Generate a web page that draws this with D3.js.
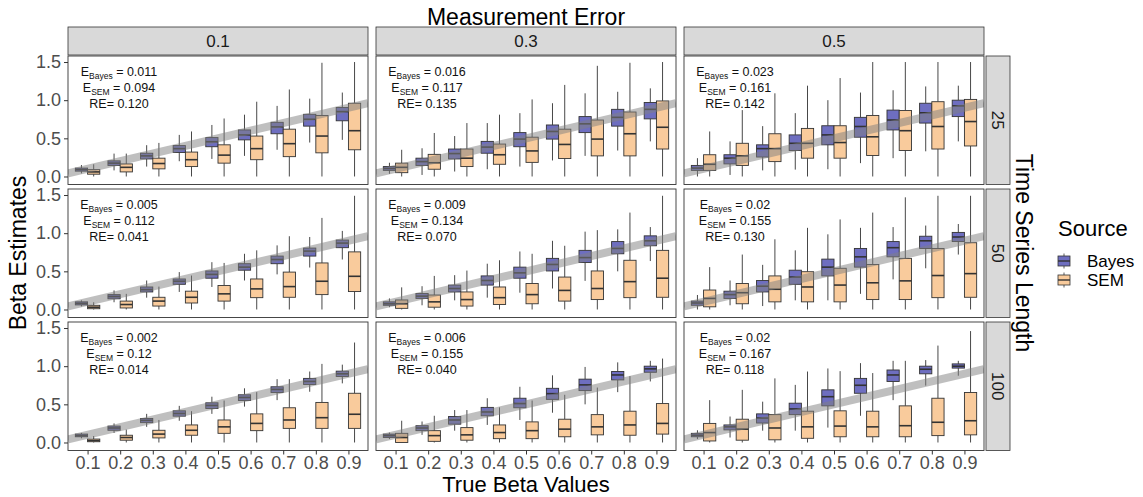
<!DOCTYPE html>
<html>
<head>
<meta charset="utf-8">
<script src="https://cdn.jsdelivr.net/npm/d3@7"></script>
<style>
  body { margin: 0; background: #fff; }
  svg { display: block; font-family: "Liberation Sans", Arial, sans-serif; }
</style>
</head>
<body>
<div id="chart"></div>
<script>
const betas = ["0.1", "0.2", "0.3", "0.4", "0.5", "0.6", "0.7", "0.8", "0.9"];
const errors = ["0.1", "0.3", "0.5"];
const lengths = ["25", "50", "100"];
const sources = ["Bayes", "SEM"];

// each row: [lower whisker, q1, median, q3, upper whisker]
const bayes25e1 = [[0.04,0.07,0.09,0.11,0.15],[0.08,0.145,0.175,0.205,0.30],[0.13,0.23,0.27,0.305,0.41],[0.20,0.315,0.365,0.405,0.545],[0.23,0.39,0.455,0.51,0.675],[0.27,0.48,0.545,0.61,0.81],[0.35,0.56,0.65,0.71,0.925],[0.445,0.66,0.75,0.815,1.02],[0.48,0.73,0.85,0.905,1.10]];
const sem25e1 = [[0,0.03,0.06,0.09,0.16],[0,0.06,0.12,0.165,0.30],[0,0.10,0.17,0.24,0.44],[0,0.13,0.22,0.32,0.59],[0,0.175,0.28,0.415,0.76],[0,0.22,0.365,0.53,0.98],[0,0.26,0.43,0.62,1.14],[0,0.31,0.53,0.80,1.49],[0,0.35,0.60,0.96,1.50]];
const bayes25e3 = [[0.035,0.08,0.105,0.13,0.18],[0.02,0.145,0.195,0.24,0.37],[0.065,0.23,0.30,0.36,0.53],[0.095,0.305,0.385,0.46,0.70],[0.13,0.39,0.49,0.575,0.83],[0.21,0.49,0.59,0.675,0.96],[0.27,0.575,0.69,0.785,1.09],[0.34,0.66,0.775,0.88,1.11],[0.46,0.755,0.88,0.97,1.155]];
const sem25e3 = [[0,0.05,0.12,0.175,0.35],[0,0.095,0.18,0.29,0.57],[0,0.13,0.24,0.36,0.70],[0,0.16,0.285,0.425,0.81],[0,0.185,0.335,0.515,1.01],[0,0.235,0.42,0.62,1.20],[0,0.27,0.49,0.74,1.45],[0,0.27,0.56,0.845,1.49],[0,0.36,0.645,0.99,1.50]];
const bayes25e5 = [[0,0.08,0.11,0.145,0.24],[0.02,0.165,0.24,0.285,0.46],[0.08,0.255,0.365,0.415,0.66],[0.09,0.34,0.435,0.545,0.83],[0.095,0.415,0.545,0.665,1.0],[0.175,0.515,0.655,0.775,1.10],[0.24,0.61,0.74,0.87,1.13],[0.33,0.70,0.835,0.96,1.18],[0.46,0.785,0.925,1.0,1.19]];
const sem25e5 = [[0,0.08,0.16,0.285,0.59],[0,0.145,0.27,0.435,0.87],[0,0.195,0.365,0.56,1.09],[0,0.24,0.435,0.63,1.19],[0,0.24,0.445,0.665,1.29],[0,0.275,0.52,0.80,1.50],[0,0.34,0.60,0.865,1.50],[0,0.36,0.655,0.98,1.50],[0,0.40,0.72,1.01,1.50]];
const bayes50e1 = [[0.04,0.06,0.08,0.10,0.12],[0.095,0.14,0.17,0.195,0.25],[0.155,0.23,0.26,0.295,0.38],[0.23,0.33,0.37,0.40,0.49],[0.295,0.41,0.46,0.505,0.62],[0.38,0.515,0.555,0.60,0.73],[0.46,0.60,0.655,0.70,0.84],[0.55,0.70,0.765,0.805,0.95],[0.655,0.81,0.87,0.91,1.03]];
const sem50e1 = [[0,0.01,0.03,0.055,0.095],[0,0.02,0.065,0.11,0.205],[0,0.045,0.11,0.16,0.30],[0,0.085,0.16,0.24,0.445],[0,0.11,0.205,0.315,0.61],[0,0.155,0.27,0.40,0.775],[0,0.16,0.30,0.49,0.96],[0,0.195,0.37,0.61,1.20],[0,0.235,0.435,0.755,1.49]];
const bayes50e3 = [[0.03,0.055,0.075,0.10,0.145],[0.055,0.145,0.175,0.21,0.305],[0.12,0.23,0.275,0.32,0.45],[0.155,0.32,0.38,0.44,0.60],[0.22,0.41,0.48,0.555,0.76],[0.275,0.505,0.59,0.67,0.90],[0.375,0.615,0.68,0.775,1.02],[0.50,0.73,0.80,0.89,1.05],[0.635,0.835,0.90,0.965,1.08]];
const sem50e3 = [[0,0.015,0.075,0.125,0.29],[0,0.03,0.10,0.19,0.44],[0,0.045,0.13,0.23,0.51],[0,0.065,0.155,0.295,0.645],[0,0.075,0.195,0.34,0.73],[0,0.11,0.25,0.425,0.835],[0,0.13,0.275,0.505,1.04],[0,0.155,0.365,0.645,1.27],[0,0.16,0.41,0.775,1.49]];
const bayes50e5 = [[0,0.055,0.085,0.11,0.19],[0.055,0.145,0.195,0.24,0.38],[0.045,0.23,0.305,0.38,0.585],[0.12,0.33,0.425,0.515,0.775],[0.12,0.44,0.555,0.66,0.985],[0.205,0.555,0.69,0.80,1.07],[0.395,0.69,0.81,0.89,1.08],[0.54,0.80,0.90,0.96,1.10],[0.72,0.89,0.95,1.01,1.12]];
const sem50e5 = [[0,0.035,0.145,0.255,0.555],[0,0.075,0.22,0.34,0.72],[0,0.10,0.265,0.44,0.92],[0,0.10,0.295,0.495,1.07],[0,0.10,0.32,0.54,1.18],[0,0.13,0.35,0.59,1.27],[0,0.13,0.375,0.67,1.47],[0,0.155,0.445,0.80,1.49],[0,0.16,0.47,0.875,1.49]];
const bayes100e1 = [[0.055,0.075,0.09,0.11,0.125],[0.125,0.16,0.19,0.215,0.25],[0.205,0.26,0.29,0.315,0.375],[0.285,0.345,0.38,0.415,0.48],[0.375,0.445,0.485,0.52,0.60],[0.47,0.55,0.59,0.625,0.71],[0.555,0.655,0.695,0.73,0.83],[0.665,0.76,0.80,0.84,0.93],[0.775,0.865,0.90,0.935,1.02]];
const sem100e1 = [[0,0.01,0.025,0.045,0.085],[0,0.03,0.065,0.095,0.17],[0,0.06,0.11,0.16,0.295],[0,0.095,0.16,0.23,0.41],[0,0.12,0.205,0.295,0.55],[0,0.155,0.25,0.375,0.66],[0,0.185,0.295,0.455,0.83],[0,0.185,0.325,0.525,1.03],[0,0.185,0.37,0.645,1.31]];
const bayes100e3 = [[0.045,0.065,0.09,0.11,0.13],[0.10,0.155,0.19,0.22,0.275],[0.155,0.24,0.295,0.34,0.425],[0.23,0.35,0.40,0.46,0.58],[0.295,0.455,0.51,0.58,0.73],[0.39,0.565,0.64,0.71,0.88],[0.50,0.68,0.755,0.83,0.99],[0.66,0.82,0.885,0.93,1.05],[0.80,0.92,0.965,1.0,1.07]];
const sem100e3 = [[0,0,0.065,0.12,0.285],[0,0.015,0.09,0.155,0.35],[0,0.03,0.10,0.195,0.425],[0,0.05,0.13,0.23,0.46],[0,0.05,0.155,0.27,0.55],[0,0.075,0.175,0.305,0.625],[0,0.10,0.205,0.365,0.72],[0,0.095,0.23,0.41,0.87],[0,0.11,0.25,0.51,1.10]];
const bayes100e5 = [[0.045,0.075,0.095,0.12,0.16],[0.065,0.165,0.205,0.23,0.34],[0.155,0.255,0.32,0.375,0.535],[0.155,0.365,0.44,0.515,0.755],[0.195,0.48,0.60,0.69,0.97],[0.35,0.645,0.75,0.84,1.04],[0.555,0.80,0.885,0.95,1.07],[0.745,0.90,0.96,1.0,1.08],[0.875,0.975,1.0,1.03,1.07]];
const sem100e5 = [[0,0.02,0.13,0.25,0.555],[0,0.03,0.175,0.305,0.69],[0,0.035,0.19,0.365,0.84],[0,0.055,0.205,0.41,0.93],[0,0.075,0.215,0.415,0.935],[0,0.075,0.205,0.41,0.91],[0,0.075,0.22,0.48,1.07],[0,0.09,0.265,0.58,1.27],[0,0.10,0.285,0.655,1.46]];

// annotation values, rows = time series length, cols = measurement error
const eBayes = [["0.011", "0.016", "0.023"], ["0.005", "0.009", "0.02"], ["0.002", "0.006", "0.02"]];
const eSem = [["0.094", "0.117", "0.161"], ["0.112", "0.134", "0.155"], ["0.12", "0.155", "0.167"]];
const reVals = [["0.120", "0.135", "0.142"], ["0.041", "0.070", "0.130"], ["0.014", "0.040", "0.118"]];

const yTicks = [0, 0.5, 1.0, 1.5];

const boxData = {
  Bayes: [
    [bayes25e1, bayes25e3, bayes25e5],
    [bayes50e1, bayes50e3, bayes50e5],
    [bayes100e1, bayes100e3, bayes100e5],
  ],
  SEM: [
    [sem25e1, sem25e3, sem25e5],
    [sem50e1, sem50e3, sem50e5],
    [sem100e1, sem100e3, sem100e5],
  ],
};

const width = 1143;
const height = 497;
const panelW = 300;
const panelH = 128.5;
const colX = [68, 376, 684];
const rowY = [56, 189, 322];
const fills = { Bayes: "#6e6ec0", SEM: "#f9cb9c" };
const font = '"Liberation Sans", Arial, sans-serif';

const svg = d3
  .select("#chart")
  .append("svg")
  .attr("width", width)
  .attr("height", height);

const x = d3.scalePoint().domain(betas).range([0, panelW]).padding(0.6);
const xLine = d3.scaleLinear().domain([0.4, 9.6]).range([0, panelW]);
const y = d3.scaleLinear().domain([-0.105, 1.579]).range([panelH, 0]);
const boxW = x.step() * 0.375;

svg
  .append("defs")
  .append("clipPath")
  .attr("id", "panel-clip")
  .append("rect")
  .attr("width", panelW)
  .attr("height", panelH);

// top strips
errors.forEach((e, c) => {
  const g = svg.append("g").attr("transform", `translate(${colX[c]},27)`);
  g.append("rect")
    .attr("width", panelW)
    .attr("height", 28)
    .attr("fill", "#d9d9d9")
    .attr("stroke", "#333")
    .attr("stroke-width", 0.8);
  g.append("text")
    .attr("x", panelW / 2)
    .attr("y", 14)
    .attr("dy", "0.36em")
    .attr("text-anchor", "middle")
    .attr("font-size", 17)
    .attr("fill", "#1a1a1a")
    .text(e);
});

// right strips
lengths.forEach((l, r) => {
  const g = svg.append("g").attr("transform", `translate(986,${rowY[r]})`);
  g.append("rect")
    .attr("width", 24)
    .attr("height", panelH)
    .attr("fill", "#d9d9d9")
    .attr("stroke", "#333")
    .attr("stroke-width", 0.8);
  g.append("text")
    .attr("transform", `translate(12,${panelH / 2}) rotate(90)`)
    .attr("dy", "0.36em")
    .attr("text-anchor", "middle")
    .attr("font-size", 17)
    .attr("fill", "#1a1a1a")
    .text(l);
});

lengths.forEach((l, r) => {
  errors.forEach((e, c) => {
    const panel = svg
      .append("g")
      .attr("transform", `translate(${colX[c]},${rowY[r]})`);

    panel
      .append("rect")
      .attr("width", panelW)
      .attr("height", panelH)
      .attr("fill", "#fff");

    sources.forEach((s, si) => {
      const offset = (si === 0 ? -1 : 1) * boxW / 2;
      const boxes = panel
        .append("g")
        .selectAll("g")
        .data(boxData[s][r][c])
        .join("g")
        .attr("transform", (d, i) => `translate(${x(betas[i]) + offset},0)`);

      boxes
        .append("line")
        .attr("y1", (d) => y(d[0]))
        .attr("y2", (d) => y(d[1]))
        .attr("stroke", "#333")
        .attr("stroke-width", 0.9);
      boxes
        .append("line")
        .attr("y1", (d) => y(d[3]))
        .attr("y2", (d) => y(d[4]))
        .attr("stroke", "#333")
        .attr("stroke-width", 0.9);
      boxes
        .append("rect")
        .attr("x", -boxW / 2)
        .attr("width", boxW)
        .attr("y", (d) => y(d[3]))
        .attr("height", (d) => y(d[1]) - y(d[3]))
        .attr("fill", fills[s])
        .attr("stroke", "#333")
        .attr("stroke-width", 0.9);
      boxes
        .append("line")
        .attr("x1", -boxW / 2)
        .attr("x2", boxW / 2)
        .attr("y1", (d) => y(d[2]))
        .attr("y2", (d) => y(d[2]))
        .attr("stroke", "#333")
        .attr("stroke-width", 1.6);
    });

    // reference line y = true beta
    panel
      .append("line")
      .attr("clip-path", "url(#panel-clip)")
      .attr("x1", xLine(0.4))
      .attr("x2", xLine(9.6))
      .attr("y1", y(0.04))
      .attr("y2", y(0.96))
      .attr("stroke", "#7f7f7f")
      .attr("stroke-opacity", 0.5)
      .attr("stroke-width", 8);

    const note = panel
      .append("g")
      .attr("font-size", 12.5)
      .attr("fill", "#111")
      .attr("text-anchor", "middle");
    const l1 = note.append("text").attr("x", 51).attr("y", 20);
    l1.append("tspan").text("E");
    l1.append("tspan").attr("dy", 3).attr("font-size", 8.5).text("Bayes");
    l1.append("tspan").attr("dy", -3).text(" = " + eBayes[r][c]);
    const l2 = note.append("text").attr("x", 51).attr("y", 35.5);
    l2.append("tspan").text("E");
    l2.append("tspan").attr("dy", 3).attr("font-size", 8.5).text("SEM");
    l2.append("tspan").attr("dy", -3).text(" = " + eSem[r][c]);
    note
      .append("text")
      .attr("x", 51)
      .attr("y", 51.5)
      .text("RE= " + reVals[r][c]);

    panel
      .append("rect")
      .attr("width", panelW)
      .attr("height", panelH)
      .attr("fill", "none")
      .attr("stroke", "#333")
      .attr("stroke-width", 0.9);

    if (c === 0) {
      const ya = panel
        .append("g")
        .call(
          d3
            .axisLeft(y)
            .tickValues(yTicks)
            .tickFormat(d3.format(".1f"))
            .tickSize(4)
            .tickPadding(3)
        );
      ya.select(".domain").remove();
      ya.selectAll("line").attr("stroke", "#333");
      ya.selectAll("text")
        .attr("fill", "#4d4d4d")
        .attr("font-size", 18)
        .attr("font-family", font);
    }
    if (r === 2) {
      const xa = panel
        .append("g")
        .attr("transform", `translate(0,${panelH})`)
        .call(d3.axisBottom(x).tickSize(4).tickPadding(2));
      xa.select(".domain").remove();
      xa.selectAll("line").attr("stroke", "#333");
      xa.selectAll("text")
        .attr("fill", "#4d4d4d")
        .attr("font-size", 18)
        .attr("font-family", font);
    }
  });
});

// titles
svg
  .append("text")
  .attr("x", 526)
  .attr("y", 25)
  .attr("text-anchor", "middle")
  .attr("font-size", 23)
  .text("Measurement Error");

svg
  .append("text")
  .attr("x", 526)
  .attr("y", 492)
  .attr("text-anchor", "middle")
  .attr("font-size", 22)
  .text("True Beta Values");

svg
  .append("text")
  .attr("transform", "translate(26,253) rotate(-90)")
  .attr("text-anchor", "middle")
  .attr("font-size", 23)
  .text("Beta Estimates");

svg
  .append("text")
  .attr("transform", "translate(1016,253) rotate(90)")
  .attr("text-anchor", "middle")
  .attr("font-size", 23)
  .text("Time Series Length");

// legend
const legend = svg.append("g").attr("transform", "translate(1058,0)");
legend
  .append("text")
  .attr("y", 236)
  .attr("font-size", 22)
  .text("Source");

const keys = legend
  .selectAll("g.key")
  .data(sources)
  .join("g")
  .attr("class", "key")
  .attr("transform", (d, i) => `translate(0,${261 + i * 19})`);

keys
  .append("line")
  .attr("x1", 6)
  .attr("x2", 6)
  .attr("y1", -7.5)
  .attr("y2", 7.5)
  .attr("stroke", "#333")
  .attr("stroke-width", 0.8);
keys
  .append("rect")
  .attr("x", 0)
  .attr("y", -5)
  .attr("width", 12)
  .attr("height", 10)
  .attr("fill", (d) => fills[d])
  .attr("stroke", "#333")
  .attr("stroke-width", 0.8);
keys
  .append("line")
  .attr("x1", 0)
  .attr("x2", 12)
  .attr("stroke", "#333")
  .attr("stroke-width", 1.4);
keys
  .append("text")
  .attr("x", 29)
  .attr("dy", "0.36em")
  .attr("font-size", 17)
  .text((d) => d);
</script>
</body>
</html>
